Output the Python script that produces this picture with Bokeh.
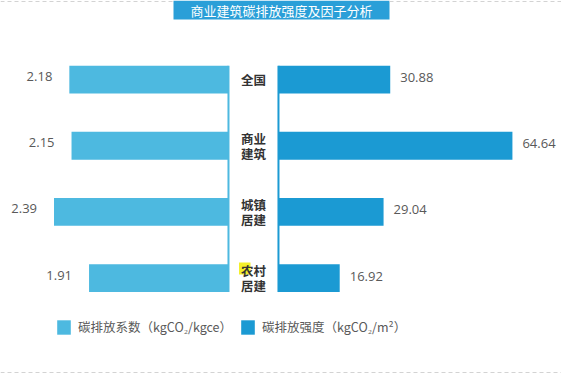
from bokeh.plotting import figure
from bokeh.models import Range1d, Legend, LegendItem, ColumnDataSource
from bokeh.core.properties import value
from bokeh.embed import file_html
from bokeh.resources import INLINE

# ---- data ----
categories = ["全国", "商业建筑", "城镇居建", "农村居建"]
center_labels = ["全国", "商业\n建筑", "城镇\n居建", "农村\n居建"]
carbon_factor = [2.18, 2.15, 2.39, 1.91]          # kgCO2/kgce
carbon_intensity = [30.88, 64.64, 29.04, 16.92]   # kgCO2/m2
series_names = ["碳排放系数（kgCO₂/kgce）", "碳排放强度（kgCO₂/m²）"]
title_text = "商业建筑碳排放强度及因子分析"

# ---- styles ----
LEFT_COLOR = "#4db9e0"
RIGHT_COLOR = "#1b9ad3"
TITLE_COLOR = "#2a9fd8"
TEXT_GREY = "#595959"
CJK = "Noto Sans CJK SC"
NUM = "Open Sans"

W, H = 561, 376
n = len(categories)
ypos = [n - 1 - i for i in range(n)]
bar_h = 0.42

src = ColumnDataSource(dict(
    y=ypos, cat=categories, lab=center_labels,
    f=carbon_factor, i=carbon_intensity,
    ft=[f"{v:.2f}" for v in carbon_factor],
    it=[f"{v:.2f}" for v in carbon_intensity],
))

p = figure(width=W, height=H, x_range=Range1d(0, W), y_range=Range1d(H, 0),
           output_backend="svg", toolbar_location=None, min_border=0,
           x_axis_location=None, y_axis_location=None)
p.grid.visible = False
p.outline_line_color = None
p.background_fill_color = "white"
p.border_fill_color = "white"

p.extra_x_ranges = {"left": Range1d(3.123, -4.562), "right": Range1d(-76.8, 78.2)}
p.extra_y_ranges = {"cat": Range1d(-1.486, 4.194)}

# bars
rl = p.hbar(y="y", height=bar_h, left=0, right="f", source=src,
            x_range_name="left", y_range_name="cat",
            fill_color=LEFT_COLOR, line_color=None)
rr = p.hbar(y="y", height=bar_h, left=0, right="i", source=src,
            x_range_name="right", y_range_name="cat",
            fill_color=RIGHT_COLOR, line_color=None)

# vertical base lines
top_y = max(ypos) + bar_h / 2
bot_y = min(ypos) - bar_h / 2
p.segment(x0=[0], x1=[0], y0=[top_y], y1=[bot_y], x_range_name="left",
          y_range_name="cat", line_color=LEFT_COLOR, line_width=2)
p.segment(x0=[0], x1=[0], y0=[top_y], y1=[bot_y], x_range_name="right",
          y_range_name="cat", line_color=RIGHT_COLOR, line_width=2)

# value labels
p.text(x="f", y="y", text="ft", source=src, x_range_name="left", y_range_name="cat",
       text_align="right", text_baseline="middle", x_offset=-17, y_offset=-3,
       text_font=value(NUM), text_font_size="13px", text_color=TEXT_GREY)
p.text(x="i", y="y", text="it", source=src, x_range_name="right", y_range_name="cat",
       text_align="left", text_baseline="middle", x_offset=10, y_offset=-2,
       text_font=value(NUM), text_font_size="13px", text_color=TEXT_GREY)

# highlight behind 农
p.quad(left=[238.5], right=[250], top=[262], bottom=[274],
       fill_color="#f3ef2a", line_color=None)

# center category labels
p.text(x=253, y="y", text="lab", source=src, y_range_name="cat",
       text_align="center", text_baseline="middle", line_height=0.78,
       text_font=value(CJK), text_font_style="bold", text_font_size="12.5px",
       text_color="#333333")

# title box
p.quad(left=[173], right=[389], top=[0], bottom=[19], fill_color=TITLE_COLOR, line_color=None)
p.text(x=[281], y=[10], text=[title_text], text_align="center", text_baseline="middle",
       text_font=value(CJK), text_font_size="13px", text_color="white")

# dashed separators
p.segment(x0=[0, 389], x1=[173, 561], y0=[1, 1], y1=[1, 1],
          line_color="#d3d3d3", line_dash="4 3", line_width=1)
p.segment(x0=[0], x1=[561], y0=[372], y1=[372],
          line_color="#d3d3d3", line_dash="4 3", line_width=1)

legend = Legend(items=[LegendItem(label=series_names[0], renderers=[rl]),
                       LegendItem(label=series_names[1], renderers=[rr])],
                orientation="horizontal", location=(55, 40),
                glyph_width=17, glyph_height=18, label_height=18,
                label_standoff=6, spacing=7, padding=0, margin=0,
                border_line_color=None, background_fill_alpha=0,
                label_text_font=CJK, label_text_font_size="12.5px",
                label_text_color=TEXT_GREY)
p.add_layout(legend)

open("out.html", "w").write(file_html(p, INLINE))
